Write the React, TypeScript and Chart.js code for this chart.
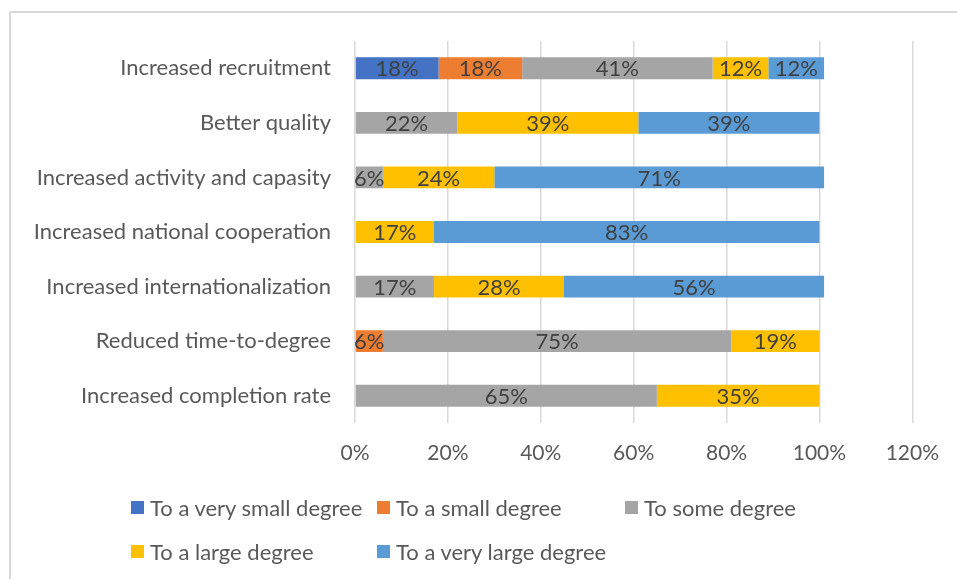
import React, { useEffect, useRef } from "react";
import { Chart, registerables } from "chart.js";

Chart.register(...registerables);

const categories = [
  "Increased recruitment",
  "Better quality",
  "Increased activity and capasity",
  "Increased national cooperation",
  "Increased internationalization",
  "Reduced time-to-degree",
  "Increased completion rate",
];

const seriesNames = [
  "To a very small degree",
  "To a small degree",
  "To some degree",
  "To a large degree",
  "To a very large degree",
];

const verySmall = [18, 0, 0, 0, 0, 0, 0];
const small = [18, 0, 0, 0, 0, 6, 0];
const some = [41, 22, 6, 0, 17, 75, 65];
const large = [12, 39, 24, 17, 28, 19, 35];
const veryLarge = [12, 39, 71, 83, 56, 0, 0];

const seriesValues = [verySmall, small, some, large, veryLarge];
const colors = ["#4472C4", "#ED7D31", "#A5A5A5", "#FFC000", "#5B9BD5"];

const xMin = 0;
const xMax = 120;
const xStep = 20;

const FONT = "Lato, 'Open Sans', sans-serif";

const dataLabels = {
  id: "dataLabels",
  afterDatasetsDraw(chart: any) {
    const ctx = chart.ctx;
    ctx.save();
    ctx.font = `22px ${FONT}`;
    ctx.fillStyle = "#404040";
    ctx.textAlign = "center";
    ctx.textBaseline = "middle";
    chart.data.datasets.forEach((ds: any, i: number) => {
      const meta = chart.getDatasetMeta(i);
      meta.data.forEach((el: any, j: number) => {
        const v = ds.data[j];
        if (!v) return;
        const p = el.getCenterPoint();
        ctx.fillText(v + "%", p.x, p.y + 1);
      });
    });
    ctx.restore();
  },
};

export default function App() {
  const ref = useRef<HTMLCanvasElement>(null);

  useEffect(() => {
    const chart = new Chart(ref.current!, {
      type: "bar",
      data: {
        labels: categories,
        datasets: seriesNames.map((name, i) => ({
          label: name,
          data: seriesValues[i],
          backgroundColor: colors[i],
          borderWidth: 0,
          barPercentage: 0.4,
          categoryPercentage: 1,
        })),
      },
      options: {
        indexAxis: "y",
        animation: false,
        responsive: false,
        maintainAspectRatio: false,
        layout: { padding: { left: 10, top: 41, right: 43, bottom: 0 } },
        plugins: {
          legend: { display: false },
          tooltip: { enabled: false },
        },
        scales: {
          x: {
            stacked: true,
            min: xMin,
            max: xMax,
            ticks: {
              stepSize: xStep,
              color: "#595959",
              font: { family: FONT, size: 21 },
              padding: 18,
              callback: (v: any) => v + "%",
            },
            grid: { color: "#D9D9D9", lineWidth: 1.5, drawTicks: false },
            border: { display: false },
            afterFit: (s: any) => {
              s.height = 156;
            },
          },
          y: {
            stacked: true,
            ticks: {
              color: "#595959",
              font: { family: FONT, size: 22 },
              padding: 24,
            },
            grid: { display: false, drawTicks: false },
            border: { display: false },
            afterFit: (s: any) => {
              s.width = 345;
            },
          },
        },
      },
      plugins: [dataLabels],
    });
    return () => chart.destroy();
  }, []);

  const legendPos = [
    [131, 507],
    [377, 507],
    [625, 507],
    [131, 551],
    [377, 551],
  ];

  return (
    <div
      style={{
        position: "fixed",
        left: 0,
        top: 0,
        width: 957,
        height: 579,
        background: "#fff",
        overflow: "hidden",
        fontFamily: FONT,
      }}
    >
      <div
        style={{
          position: "absolute",
          left: 9,
          top: 11,
          width: 1000,
          height: 1000,
          borderTop: "2px solid #D9D9D9",
          borderLeft: "2px solid #D9D9D9",
        }}
      />
      <canvas
        ref={ref}
        width={957}
        height={579}
        style={{ position: "absolute", left: 0, top: 0, width: 957, height: 579 }}
      />
      {seriesNames.map((name, i) => (
        <div
          key={name}
          style={{
            position: "absolute",
            left: legendPos[i][0],
            top: legendPos[i][1] - 14,
            height: 28,
            display: "flex",
            alignItems: "center",
            whiteSpace: "nowrap",
            color: "#595959",
            fontSize: 22,
          }}
        >
          <span
            style={{
              display: "inline-block",
              width: 13,
              height: 13,
              background: colors[i],
              marginRight: 6,
            }}
          />
          <span>{name}</span>
        </div>
      ))}
    </div>
  );
}
